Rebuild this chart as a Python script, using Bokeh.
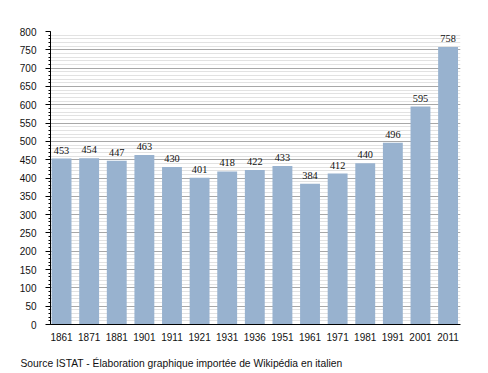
from bokeh.plotting import figure
from bokeh.models import Range1d, FixedTicker, ColumnDataSource, LabelSet, Title
from bokeh.embed import file_html
from bokeh.resources import INLINE

years = ["1861", "1871", "1881", "1901", "1911", "1921", "1931", "1936",
         "1951", "1961", "1971", "1981", "1991", "2001", "2011"]
population = [453, 454, 447, 463, 430, 401, 418, 422, 433, 384, 412, 440, 496, 595, 758]
source_text = "Source ISTAT - Élaboration graphique importée de Wikipédia en italien"

FONT = "Liberation Sans"
xs = list(range(len(years)))
src = ColumnDataSource(dict(x=xs, top=population, label=[str(v) for v in population]))

p = figure(width=486, height=371, output_backend="svg", toolbar_location=None,
           x_range=Range1d(-0.40, len(years) - 0.55), y_range=Range1d(0, 800),
           min_border_left=50, min_border_right=26, min_border_top=31, min_border_bottom=47)
p.outline_line_color = None
p.background_fill_color = "white"

p.vbar(x="x", top="top", width=0.72, source=src, fill_color="#98b2cf", line_color=None)

labels = LabelSet(x="x", y="top", text="label", source=src, text_align="center",
                  text_baseline="bottom", y_offset=5, text_font=FONT,
                  text_font_size="10.3px", text_color="#111111")
p.add_layout(labels)

# axes
p.xaxis.ticker = FixedTicker(ticks=xs)
p.xaxis.major_label_overrides = {i: y for i, y in enumerate(years)}
p.xaxis.major_tick_line_color = None
p.xaxis.minor_tick_line_color = None
p.xaxis.axis_line_color = "black"
p.xaxis.major_label_text_font = FONT
p.xaxis.major_label_text_font_size = "10px"
p.xaxis.major_label_text_color = "#111111"
p.xaxis.major_label_standoff = 2
p.xaxis.axis_label = "\u00a0"
p.xaxis.axis_label_text_font_size = "5px"
p.xaxis.axis_label_standoff = 0

p.yaxis.ticker = FixedTicker(ticks=list(range(0, 801, 50)), minor_ticks=list(range(0, 801, 10)))
p.yaxis.axis_line_color = "black"
p.yaxis.major_tick_line_color = "black"
p.yaxis.minor_tick_line_color = "black"
p.yaxis.major_tick_out = 5
p.yaxis.major_tick_in = 0
p.yaxis.minor_tick_out = 2
p.yaxis.minor_tick_in = 0
p.yaxis.major_label_text_font = FONT
p.yaxis.major_label_text_font_size = "10px"
p.yaxis.major_label_text_color = "#111111"
p.yaxis.major_label_standoff = 9

p.xgrid.grid_line_color = None
p.ygrid.grid_line_color = "#a8a8a8"
p.ygrid.minor_grid_line_color = "#e2e2e2"
p.ygrid.level = "underlay"

p.add_layout(Title(text=source_text, align="left", offset=-30, standoff=6,
                   text_font=FONT, text_font_size="10.3px", text_font_style="normal",
                   text_color="#111111"), "below")

open("out.html", "w").write(file_html(p, INLINE))
